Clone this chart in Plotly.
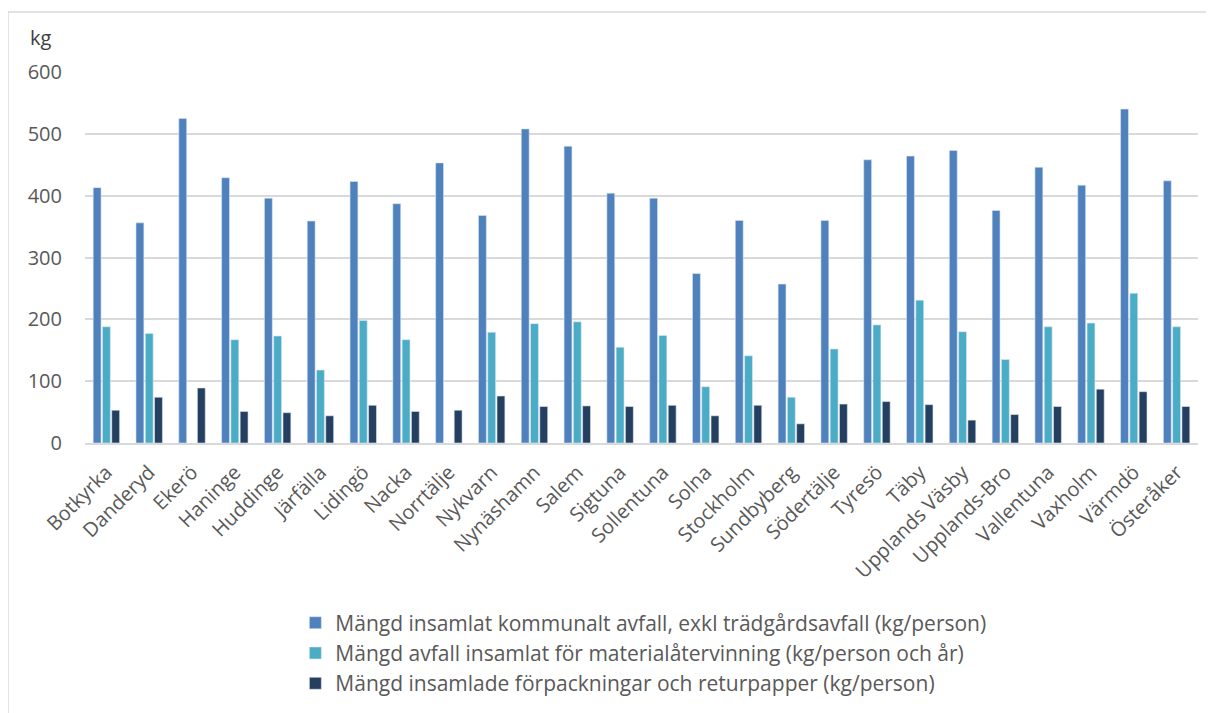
import plotly.graph_objects as go

categories = ["Botkyrka", "Danderyd", "Ekerö", "Haninge", "Huddinge", "Järfälla", "Lidingö",
              "Nacka", "Norrtälje", "Nykvarn", "Nynäshamn", "Salem", "Sigtuna", "Sollentuna",
              "Solna", "Stockholm", "Sundbyberg", "Södertälje", "Tyresö", "Täby",
              "Upplands Väsby", "Upplands-Bro", "Vallentuna", "Vaxholm", "Värmdö", "Österåker"]

kommunalt = [413, 356, 525, 429, 396, 359, 423, 387, 453, 368, 508, 480, 404, 396,
             274, 360, 257, 360, 458, 464, 473, 376, 446, 417, 540, 424]
material = [188, 177, None, 167, 173, 118, 198, 167, None, 179, 193, 196, 155, 174,
            91, 141, 74, 152, 191, 231, 180, 135, 188, 194, 242, 188]
forpack = [53, 74, 89, 51, 49, 44, 61, 51, 53, 76, 59, 60, 59, 61,
           44, 61, 31, 63, 67, 62, 37, 46, 59, 87, 83, 59]

series_names = ["Mängd insamlat kommunalt avfall, exkl trädgårdsavfall (kg/person)",
                "Mängd avfall insamlat för materialåtervinning (kg/person och år)",
                "Mängd insamlade förpackningar och returpapper (kg/person)"]
colors = ["#4F81BD", "#4BACC6", "#243F60"]
y_ticks = [0, 100, 200, 300, 400, 500, 600]

font = "Open Sans"
fig = go.Figure()
for name, vals, c in zip(series_names, [kommunalt, material, forpack], colors):
    fig.add_trace(go.Bar(x=categories, y=vals, name=name, marker_color=c,
                         marker_line=dict(color="#DCE6F2", width=0.6)))

fig.update_layout(
    width=1206, height=705,
    barmode="group", bargap=0.35, bargroupgap=0.15,
    plot_bgcolor="white", paper_bgcolor="white",
    margin=dict(l=77, r=16, t=64, b=270, autoexpand=False),
    font=dict(family=font, color="#595959"),
    xaxis=dict(tickangle=-45, tickfont=dict(size=20, color="#595959"),
               showgrid=False, showline=True, linecolor="#D9D9D9", linewidth=1.5,
               ticks="", ticklabelstandoff=8),
    yaxis=dict(range=[0, 600], tickvals=y_ticks, tickfont=dict(size=20, color="#595959"),
               gridcolor="#D9D9D9", gridwidth=1.5, zeroline=False, showline=False,
               ticks="", ticklabelstandoff=22),
    legend=dict(x=0.189, y=-0.43, xanchor="left", yanchor="top", orientation="v",
                font=dict(size=21, color="#595959"), tracegroupgap=2,
                itemwidth=30),
    showlegend=True,
    annotations=[dict(text="kg", xref="paper", yref="paper", x=-0.0395, y=1.094,
                      xanchor="center", yanchor="middle", showarrow=False,
                      font=dict(size=20, color="#404040"))],
    shapes=[dict(type="rect", xref="paper", yref="paper", x0=-0.0692, x1=1.05,
                 y0=-0.9, y1=1.1617, line=dict(color="#D9D9D9", width=1.5))],
)

fig.write_html("out.html")
